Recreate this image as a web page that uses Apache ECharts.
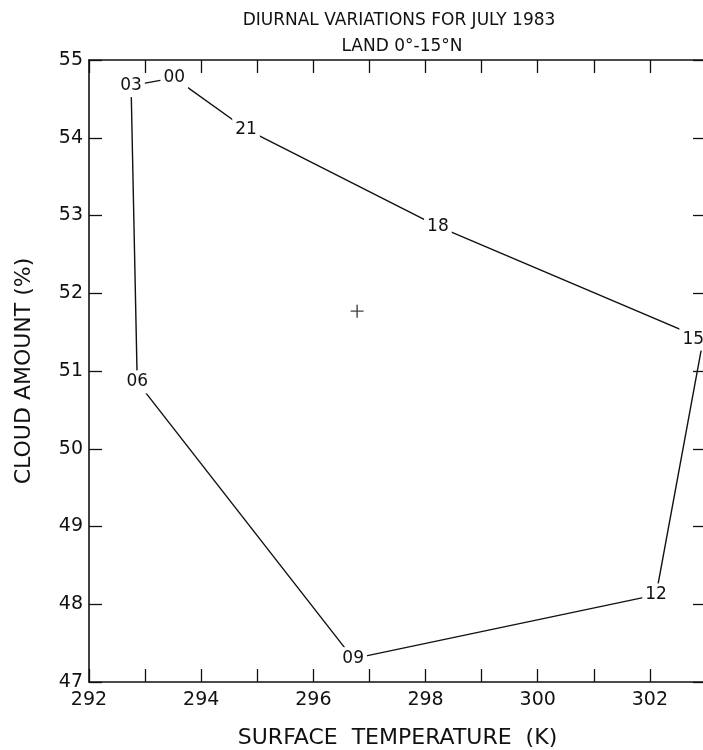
<!DOCTYPE html>
<html>
<head>
<meta charset="utf-8">
<script src="https://cdn.jsdelivr.net/npm/echarts@6/dist/echarts.min.js"></script>
<style>
  html, body { margin: 0; padding: 0; background: #fff; overflow: hidden; }
  #chart { width: 703px; height: 750px; }
</style>
</head>
<body>
<div id="chart"></div>
<script>
// Diurnal cycle, July 1983, land 0-15N: each point is a local hour (UTC label),
// plotted as surface temperature vs. cloud amount, joined in time order.
const hours = ['00', '21', '18', '15', '12', '09', '06', '03'];
const surfaceTemp = [293.52, 294.80, 298.22, 302.95, 302.11, 296.71, 292.86, 292.75];
const cloudAmount = [54.77, 54.11, 52.86, 51.41, 48.12, 47.30, 50.86, 54.67];
// Daily mean marked with a cross
const meanTemp = 296.78;
const meanCloud = 51.77;
// Axis ranges and labelled ticks
const xMin = 292, xMax = 303;
const yMin = 47, yMax = 55;
const xTickLabels = [292, 294, 296, 298, 300, 302];
const yTickLabels = [47, 48, 49, 50, 51, 52, 53, 54, 55];

const FONT = 'DejaVu Sans';
const INK = '#111';

// Closed loop: repeat the first hour at the end without a label
const loop = hours.map((h, i) => {
  const item = { value: [surfaceTemp[i], cloudAmount[i]], label: { show: true, formatter: h } };
  if (h === '15') item.label.offset = [-10, 0];
  return item;
});
loop.push({ value: [surfaceTemp[0], cloudAmount[0]], label: { show: false } });

const tickStyle = { show: true, inside: true, length: 13, lineStyle: { color: INK, width: 1.3 } };
const lineStyle = { show: true, onZero: false, lineStyle: { color: INK, width: 1.6 } };

const chart = echarts.init(document.getElementById('chart'), null, { renderer: 'canvas', width: 703, height: 750 });
chart.setOption({
  animation: false,
  backgroundColor: '#fff',
  title: [
    {
      text: 'DIURNAL VARIATIONS FOR JULY 1983',
      left: 394, top: 7, textAlign: 'center',
      textStyle: { fontFamily: FONT, fontSize: 17, fontWeight: 'normal', color: INK }
    },
    {
      text: 'LAND 0°-15°N',
      left: 397, top: 33, textAlign: 'center',
      textStyle: { fontFamily: FONT, fontSize: 17, fontWeight: 'normal', color: INK }
    }
  ],
  // plot frame runs slightly past the right edge of the canvas
  grid: {
    left: 89, top: 60, width: 617, height: 622,
    containLabel: false, outerBoundsMode: 'none'
  },
  xAxis: [
    {
      type: 'value', position: 'bottom', min: xMin, max: xMax, interval: 1,
      axisLine: lineStyle, axisTick: tickStyle, splitLine: { show: false },
      axisLabel: {
        margin: 9, fontFamily: FONT, fontSize: 19, color: INK,
        formatter: v => xTickLabels.includes(v) ? String(v) : ''
      },
      name: 'SURFACE  TEMPERATURE  (K)', nameLocation: 'middle', nameGap: 45,
      nameTextStyle: { fontFamily: FONT, fontSize: 22, color: INK }
    },
    {
      type: 'value', position: 'top', min: xMin, max: xMax, interval: 1,
      axisLine: lineStyle, axisTick: tickStyle, splitLine: { show: false },
      axisLabel: { show: false }
    }
  ],
  yAxis: [
    {
      type: 'value', position: 'left', min: yMin, max: yMax, interval: 1,
      axisLine: lineStyle, axisTick: tickStyle, splitLine: { show: false },
      axisLabel: {
        margin: 6, fontFamily: FONT, fontSize: 19, color: INK,
        formatter: v => yTickLabels.includes(v) ? String(v) : ''
      },
      name: 'CLOUD AMOUNT (%)', nameLocation: 'middle', nameGap: 54, nameRotate: 90,
      nameTextStyle: { fontFamily: FONT, fontSize: 22, color: INK }
    },
    {
      type: 'value', position: 'right', min: yMin, max: yMax, interval: 1,
      axisLine: lineStyle, axisTick: tickStyle, splitLine: { show: false },
      axisLabel: { show: false }
    }
  ],
  series: [
    {
      type: 'line',
      xAxisIndex: 0, yAxisIndex: 0,
      data: loop,
      symbol: 'circle', symbolSize: 1, showSymbol: true, showAllSymbol: true,
      itemStyle: { color: '#fff' },
      lineStyle: { color: INK, width: 1.4 },
      clip: false,
      label: {
        show: true, position: 'inside',
        fontFamily: FONT, fontSize: 17, color: INK,
        backgroundColor: '#fff', padding: [3, 3]
      },
      emphasis: { disabled: true },
      z: 2
    },
    {
      type: 'scatter',
      xAxisIndex: 0, yAxisIndex: 0,
      data: [[meanTemp, meanCloud]],
      symbol: 'path://M0 6H12M6 0V12', symbolSize: 13,
      itemStyle: { color: 'none', borderColor: INK, borderWidth: 1.4 },
      emphasis: { disabled: true },
      z: 3
    }
  ]
});
</script>
</body>
</html>
